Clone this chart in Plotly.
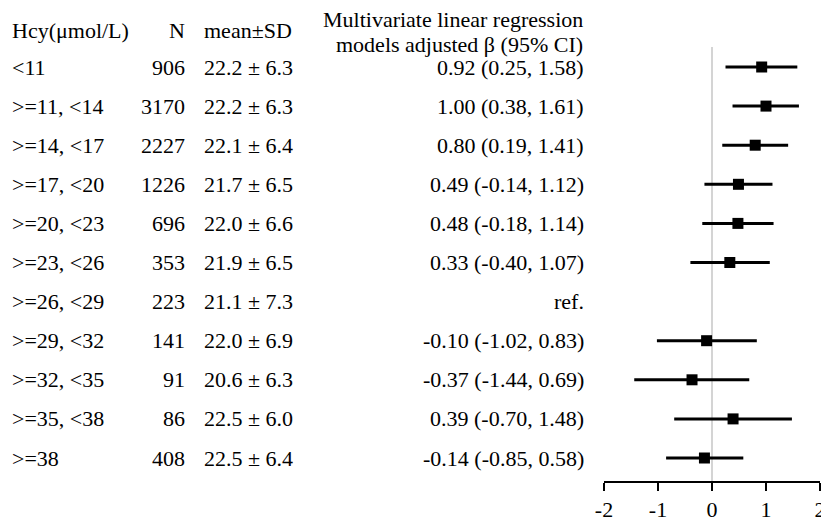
"""Forest plot: Hcy groups vs adjusted beta (95% CI), rebuilt with Plotly."""

import plotly.graph_objects as go

# --------------------------------------------------------------------------- #
# Data
# --------------------------------------------------------------------------- #
GROUPS = [
    "<11", ">=11, <14", ">=14, <17", ">=17, <20", ">=20, <23", ">=23, <26",
    ">=26, <29", ">=29, <32", ">=32, <35", ">=35, <38", ">=38",
]
N = [906, 3170, 2227, 1226, 696, 353, 223, 141, 91, 86, 408]
MEAN = [22.2, 22.2, 22.1, 21.7, 22.0, 21.9, 21.1, 22.0, 20.6, 22.5, 22.5]
SD = [6.3, 6.3, 6.4, 6.5, 6.6, 6.5, 7.3, 6.9, 6.3, 6.0, 6.4]
BETA = [0.92, 1.00, 0.80, 0.49, 0.48, 0.33, None, -0.10, -0.37, 0.39, -0.14]
CI_LOW = [0.25, 0.38, 0.19, -0.14, -0.18, -0.40, None, -1.02, -1.44, -0.70, -0.85]
CI_HIGH = [1.58, 1.61, 1.41, 1.12, 1.14, 1.07, None, 0.83, 0.69, 1.48, 0.58]
TICKS = [-2, -1, 0, 1, 2]

# --------------------------------------------------------------------------- #
# Layout constants (window pixels; the page body adds an 8px margin)
# --------------------------------------------------------------------------- #
PAGE_MARGIN = 8
WIN_W, WIN_H = 829, 525
WIDTH, HEIGHT = WIN_W - PAGE_MARGIN, WIN_H - PAGE_MARGIN
PLOT_LEFT, PLOT_RIGHT = 604, 820      # x = -2 .. 2
AXIS_Y = 481                           # x-axis line
ROW0_Y, ROW_STEP = 67, 39.1            # first row centre, row pitch
LEFT_TEXT_X = 10                       # first column, kept inside the page
FONT = "Liberation Serif, Times New Roman, serif"
FONT_SIZE = 22

# y data range so that row i sits at ROW0_Y + i * ROW_STEP
Y_TOP = -(ROW0_Y - PAGE_MARGIN) / ROW_STEP
Y_BOTTOM = Y_TOP + (AXIS_Y - PAGE_MARGIN) / ROW_STEP


def px(x):
    """Window pixel x -> paper x."""
    return (x - PLOT_LEFT) / (PLOT_RIGHT - PLOT_LEFT)


def py(y):
    """Window pixel y -> y data value."""
    return Y_TOP + (y - PAGE_MARGIN) / ROW_STEP


def fmt_ci(b, lo, hi):
    if b is None:
        return "ref."
    return f"{b:.2f} ({lo:.2f}, {hi:.2f})"


rows = list(range(len(GROUPS)))
plotted = [i for i in rows if BETA[i] is not None]

fig = go.Figure()

# reference line at 0
fig.add_shape(
    type="line", xref="x", yref="y",
    x0=0, x1=0, y0=py(47), y1=Y_BOTTOM,
    line=dict(color="#c6c6c6", width=1.5),
    layer="below",
)

fig.add_trace(
    go.Scatter(
        x=[BETA[i] for i in plotted],
        y=[rows[i] for i in plotted],
        mode="markers",
        marker=dict(symbol="square", size=11, color="black"),
        error_x=dict(
            type="data", symmetric=False,
            array=[CI_HIGH[i] - BETA[i] for i in plotted],
            arrayminus=[BETA[i] - CI_LOW[i] for i in plotted],
            color="black", thickness=3, width=0,
        ),
        showlegend=False,
        hoverinfo="skip",
        cliponaxis=False,
    )
)

ann = []


def text(x, y, s, anchor):
    ann.append(dict(
        x=px(x), y=y, xref="paper", yref="y", text=s, showarrow=False,
        xanchor=anchor, yanchor="middle",
        font=dict(family=FONT, size=FONT_SIZE, color="black"),
    ))


# headers
text(LEFT_TEXT_X, py(30), "Hcy(μmol/L)", "left")
text(187, py(30), "N", "right")
text(202, py(30), "mean±SD", "left")
text(585, py(19), "Multivariate linear regression", "right")
text(585, py(44), "models adjusted β (95% CI)", "right")

for i in rows:
    text(LEFT_TEXT_X, i, GROUPS[i], "left")
    text(187, i, str(N[i]), "right")
    text(202, i, f"{MEAN[i]:.1f} ± {SD[i]:.1f}", "left")
    text(586, i, fmt_ci(BETA[i], CI_LOW[i], CI_HIGH[i]), "right")

fig.update_layout(
    width=WIDTH,
    height=HEIGHT,
    paper_bgcolor="white",
    plot_bgcolor="white",
    margin=dict(
        l=PLOT_LEFT - PAGE_MARGIN,
        r=WIN_W - PLOT_RIGHT,
        t=0,
        b=WIN_H - AXIS_Y,
        pad=0,
    ),
    annotations=ann,
    font=dict(family=FONT, size=FONT_SIZE, color="black"),
)
fig.update_xaxes(
    range=[-2, 2],
    tickvals=TICKS,
    ticktext=[str(t) for t in TICKS],
    showline=True, linecolor="black", linewidth=1.5,
    ticks="outside", ticklen=8, tickwidth=1.5, tickcolor="black",
    showgrid=False, zeroline=False,
    tickfont=dict(family=FONT, size=FONT_SIZE),
)
fig.update_yaxes(range=[Y_BOTTOM, Y_TOP], visible=False)

fig.write_html("out.html")
